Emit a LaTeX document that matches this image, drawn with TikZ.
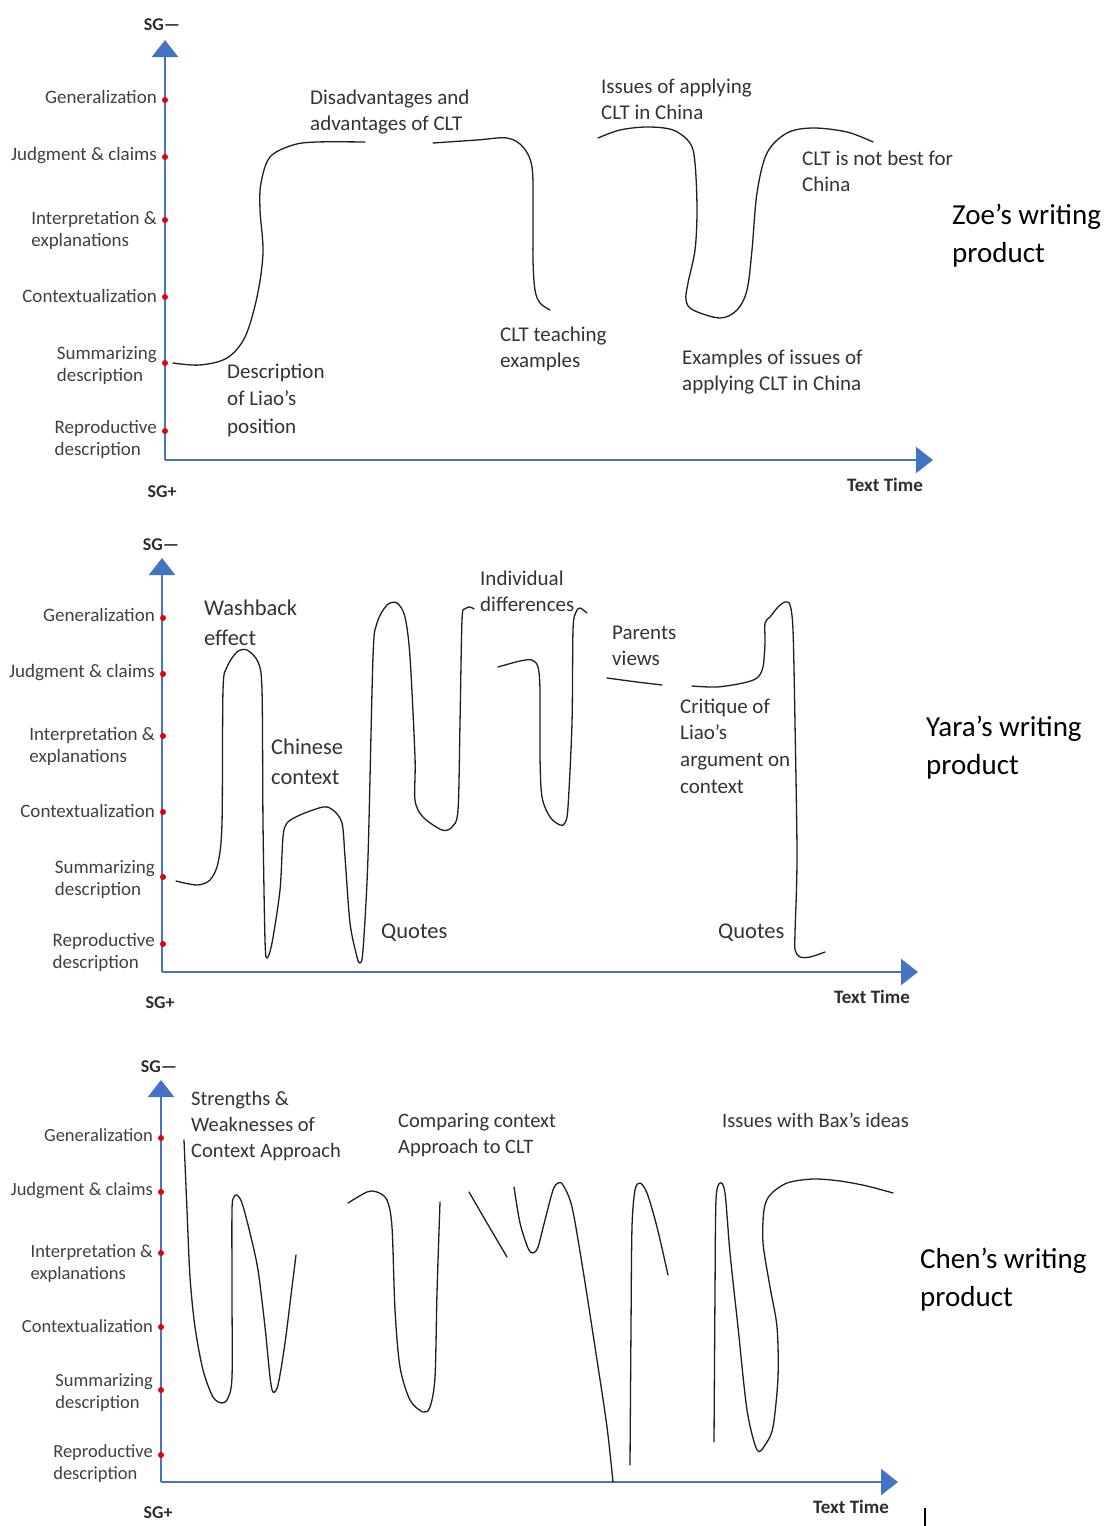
\documentclass[tikz,border=0pt]{standalone}
\usepackage{fontspec}
\setmainfont{Carlito}
\usetikzlibrary{arrows.meta}

\definecolor{axisblue}{RGB}{68,114,196}
\definecolor{dotred}{RGB}{230,0,0}
\definecolor{lvlgray}{RGB}{64,64,64}
\definecolor{ink}{RGB}{30,30,30}

\tikzset{
  axis/.style={draw=axisblue, line width=2.2pt, -{Triangle[width=26pt,length=17pt]}},
  lvldot/.style={circle, fill=dotred, inner sep=0pt, minimum size=6pt},
  lvl/.style={font=\fontsize{19}{22}\selectfont, text=lvlgray, align=left, inner sep=0pt, anchor=north east},
  note/.style={font=\fontsize{21}{26.5}\selectfont, text=lvlgray!80!black, align=left, inner sep=0pt, anchor=north west},
  smallnote/.style={note, font=\fontsize{20.5}{26}\selectfont},
  bignote/.style={font=\fontsize{22.5}{29.5}\selectfont, text=lvlgray!80!black, align=left, inner sep=0pt, anchor=north west},
  title/.style={font=\fontsize{29}{38}\selectfont, text=black, align=left, inner sep=0pt, anchor=north west},
  sg/.style={font=\bfseries\fontsize{18}{18}\selectfont, text=lvlgray!70!black, inner sep=0pt},
  ttime/.style={font=\bfseries\fontsize{19}{19}\selectfont, text=lvlgray!70!black, inner sep=0pt},
  trace/.style={draw=ink, line width=1.3pt, line cap=round, line join=round},
}

% dots and level names along a vertical axis: prefix, axis x, six dot heights
\newcommand\levels[8]{%
  \foreach \yy/\off/\txt [count=\i] in {#3/-2/Generalization, #4/-2/{Judgment \& claims},
      #5/-1/{Interpretation \&\\explanations}, #6/0/Contextualization,
      #7/-9/{Summarizing\\description}, #8/-3/{Reproductive\\description}} {
    \node[lvldot] (#1-d\i) at (#2,\yy) {};
    \node[lvl] (#1-l\i) at (#2-8,\yy+\off-7.5) {\txt};
  }%
}

\begin{document}
\begin{tikzpicture}[x=1pt,y=-1pt]
\useasboundingbox (0,0) rectangle (1106,1526);

% ---------------- Zoe ----------------
\coordinate (z-o) at (165,460);
\coordinate (z-top) at (165,40);
\coordinate (z-end) at (933,460);
\draw[axis] (z-o) -- (z-top);
\draw[axis] (z-o) -- (z-end);
\node[sg] (z-sgm) at (162,25) {SG—};
\node[sg] (z-sgp) at (162,492) {SG+};
\node[ttime] (z-tt) at (885,485) {Text Time};
\levels{z}{165}{100}{157}{220}{297}{363}{431}

\draw[trace] plot[smooth, tension=0.55] coordinates {(173,363) (200,365) (227,358) (245,337) (257,297) (263,253) (260,210) (261,183) (270,157) (293,145) (317,142) (365,142)};
\draw[trace] plot[smooth, tension=0.55] coordinates {(433,143) (477,140) (507,138) (523,147) (532,167) (533,210) (533,260) (535,290) (540,303) (550,310)};
\draw[trace] plot[smooth, tension=0.55] coordinates {(598,138) (620,130) (647,127) (673,130) (690,143) (695,163) (697,210) (695,250) (688,283) (686,300) (693,310) (720,318) (737,310) (747,290) (752,250) (757,193) (767,153) (787,133) (813,128) (847,132) (873,142)};

\node[note] (z-n1) at (310,89.5) {Disadvantages and\\advantages of CLT};
\node[note] (z-n2) at (601,78.5) {Issues of applying\\CLT in China};
\node[note] (z-n3) at (802,150.5) {CLT is not best for\\China};
\node[note, font=\fontsize{21}{27.5}\selectfont] (z-n4) at (227,363.5) {Description\\of Liao’s\\position};
\node[note] (z-n5) at (500,326.5) {CLT teaching\\examples};
\node[note] (z-n6) at (682,349.5) {Examples of issues of\\applying CLT in China};
\node[title] (z-title) at (952,204) {Zoe’s writing\\product};

% ---------------- Yara ----------------
\coordinate (y-o) at (162,972);
\coordinate (y-top) at (162,558);
\coordinate (y-end) at (918,972);
\draw[axis] (y-o) -- (y-top);
\draw[axis] (y-o) -- (y-end);
\node[sg] (y-sgm) at (161,545) {SG—};
\node[sg] (y-sgp) at (160,1003) {SG+};
\node[ttime] (y-tt) at (872,997) {Text Time};
\levels{y}{163}{618}{674}{736}{812}{877}{944}

\draw[trace] plot[smooth, tension=0.5] coordinates {(176,881) (197,885) (210,880) (218,863) (222,823) (223,690) (227,667) (237,652) (247,650) (258,662) (262,690) (263,823) (265,940) (267,958) (272,943) (280,890) (283,837) (287,823) (300,815) (323,807) (333,810) (342,823) (345,857) (350,923) (357,957) (360,963) (363,950) (368,857) (373,657) (377,623) (387,605) (397,603) (405,617) (410,657) (415,757) (415,800) (423,817) (442,830) (452,827) (458,810) (460,723) (462,620) (465,609) (470,607) (474,609)};
\draw[trace] plot[smooth, tension=0.5] coordinates {(498,667) (520,661) (532,660) (538,667) (540,690) (540,757) (542,797) (550,817) (560,825) (565,823) (568,807) (572,723) (573,630) (576,612) (580,608) (587,613)};
\draw[trace] plot[smooth, tension=0.5] coordinates {(607,678) (637,682) (662,685)};
\draw[trace] plot[smooth, tension=0.5] coordinates {(692,686) (717,687) (743,683) (757,678) (763,667) (765,643) (765,623) (770,617) (778,607) (785,602) (790,605) (793,630) (795,723) (797,857) (795,933) (795,950) (800,957) (810,957) (825,952)};

\node[bignote] (y-n1) at (204,600) {Washback\\effect};
\node[bignote] (y-n2) at (271,739) {Chinese\\context};
\node[bignote] (y-n3) at (381,924) {Quotes};
\node[note] (y-n4) at (480,570.5) {Individual\\differences};
\node[note] (y-n5) at (612,625.5) {Parents\\views};
\node[note, font=\fontsize{21}{26.7}\selectfont] (y-n6) at (680,698.5) {Critique of\\Liao’s\\argument on\\context};
\node[bignote] (y-n7) at (718,924) {Quotes};
\node[title] (y-title) at (926,716) {Yara’s writing\\product};

% ---------------- Chen ----------------
\coordinate (c-o) at (161,1482);
\coordinate (c-top) at (161,1080);
\coordinate (c-end) at (898,1482);
\draw[axis] (c-o) -- (c-top);
\draw[axis] (c-o) -- (c-end);
\node[sg] (c-sgm) at (159,1067) {SG—};
\node[sg] (c-sgp) at (158,1513) {SG+};
\node[ttime] (c-tt) at (851,1507) {Text Time};
\begin{scope}[lvl/.append style={font=\fontsize{18.5}{22}\selectfont}]
\levels{c}{161}{1138}{1192}{1253}{1327}{1390}{1455}
\end{scope}

\draw[trace] plot[smooth, tension=0.5] coordinates {(184,1140) (187,1210) (190,1277) (195,1327) (203,1370) (213,1397) (222,1403) (228,1398) (232,1377) (232,1293) (232,1210) (234,1197) (237,1195) (242,1203) (250,1233) (258,1270) (265,1327) (270,1377) (273,1392) (278,1385) (285,1343) (292,1287) (296,1255)};
\draw[trace] plot[smooth, tension=0.5] coordinates {(348,1203) (367,1192) (377,1192) (387,1200) (392,1227) (395,1310) (400,1367) (410,1400) (423,1412) (430,1407) (435,1377) (437,1293) (440,1202)};
\draw[trace] plot[smooth, tension=0.5] coordinates {(469,1192) (487,1223) (507,1257)};
\draw[trace] plot[smooth, tension=0.5] coordinates {(514,1187) (520,1223) (528,1248) (533,1253) (538,1247) (545,1220) (553,1190) (558,1183) (563,1185) (572,1207) (583,1270) (597,1360) (607,1427) (613,1482)};
\draw[trace] plot[smooth, tension=0.5] coordinates {(630,1465) (631,1327) (632,1227) (635,1190) (640,1183) (647,1193) (657,1227) (668,1275)};
\draw[trace] plot[smooth, tension=0.5] coordinates {(714,1442) (715,1293) (716,1200) (720,1183) (725,1193) (730,1253) (738,1327) (747,1410) (757,1450) (765,1445) (773,1427) (778,1377) (777,1327) (770,1287) (763,1243) (764,1210) (770,1195) (787,1183) (813,1179) (840,1181) (867,1186) (893,1193)};

\node[smallnote] (c-n1) at (191,1091) {Strengths \&\\Weaknesses of\\Context Approach};
\node[smallnote] (c-n2) at (398,1113) {Comparing context\\Approach to CLT};
\node[smallnote] (c-n3) at (722,1113) {Issues with Bax’s ideas};
\node[title] (c-title) at (920,1248) {Chen’s writing\\product};

% text cursor mark below the last panel
\coordinate (cur-a) at (925,1508);
\coordinate (cur-b) at (925,1526);
\draw[black, line width=1.2pt] (cur-a) -- (cur-b);
\end{tikzpicture}
\end{document}
